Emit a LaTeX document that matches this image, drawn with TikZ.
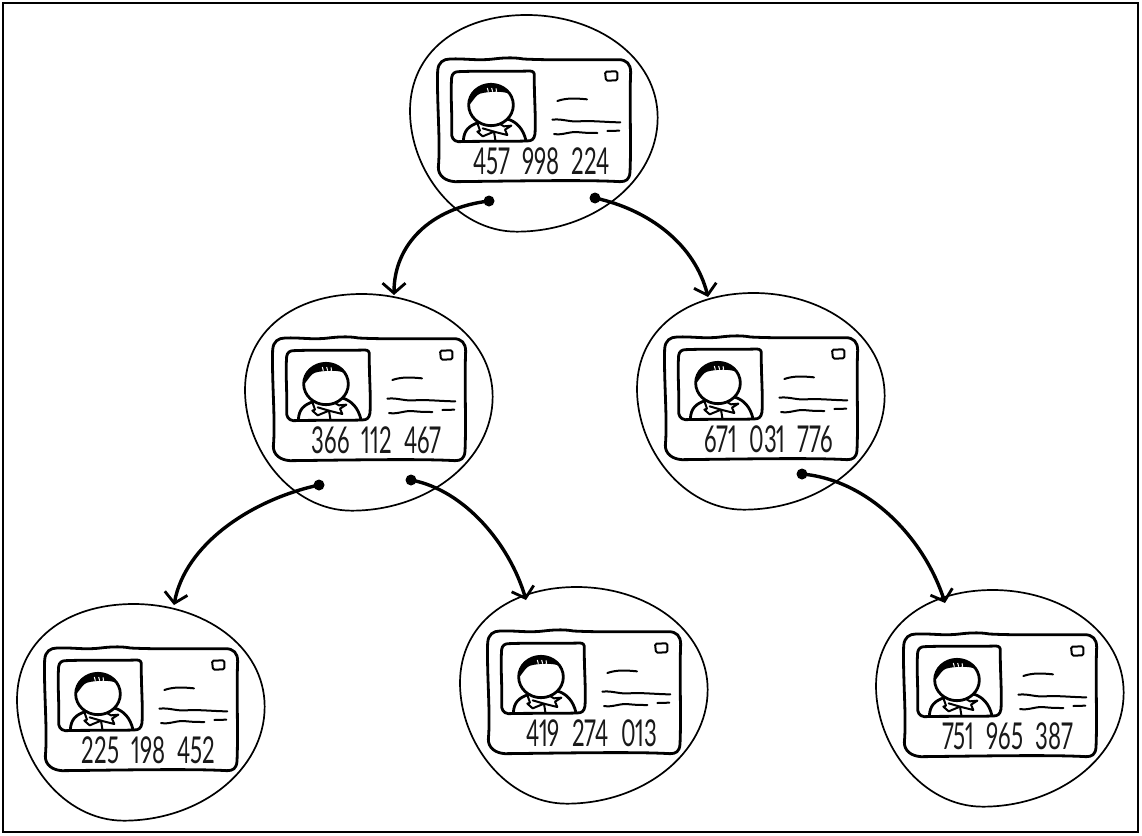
\documentclass[tikz,border=0pt]{standalone}
\usepackage{fontspec}
\setmainfont{Lato}[Numbers=Proportional]
\usetikzlibrary{arrows.meta}
\tikzset{
  x=1pt,y=-1pt,
  ink/.style={line cap=round,line join=round,draw=black},
  bubble/.style={ink,line width=1.7pt},
  cardline/.style={ink,line width=2.8pt},
  thinline/.style={ink,line width=2pt},
  numlabel/.style={font=\fontsize{37}{37}\selectfont,inner sep=0pt,text=black!90},
  link/.style={ink,line width=3.4pt,-{Straight Barb[length=10pt,width=23pt,line width=2.8pt]}},
  dotmark/.style={circle,fill=black,inner sep=0pt,minimum size=11pt},
  pics/idcard/.style={code={
    \begin{scope}[shift={(-38,-29)},scale=0.33333]
      % bubble
      \draw[bubble] (380,-42) .. controls (175,-42) and (30,70) .. (30,246)
        .. controls (30,426) and (170,608) .. (350,608)
        .. controls (580,608) and (773,456) .. (773,266)
        .. controls (773,85) and (590,-42) .. (380,-42) -- cycle;
      % card
      \draw[cardline] (150,90) .. controls (200,88) and (230,96) .. (280,90)
        .. controls (320,85) and (350,86) .. (370,90)
        .. controls (450,94) and (550,92) .. (655,92)
        .. controls (680,92) and (692,105) .. (692,130)
        .. controls (688,220) and (694,340) .. (690,430)
        .. controls (688,452) and (678,458) .. (660,458)
        .. controls (560,452) and (350,456) .. (165,458)
        .. controls (135,456) and (115,440) .. (115,415)
        .. controls (122,340) and (110,220) .. (113,125)
        .. controls (115,100) and (130,90) .. (150,90) -- cycle;
      % photo
      \draw[cardline] (175,128) .. controls (250,125) and (320,128) .. (390,126)
        .. controls (400,126) and (404,132) .. (403,142)
        .. controls (402,200) and (408,260) .. (405,315)
        .. controls (402,332) and (395,336) .. (380,336)
        .. controls (310,338) and (240,336) .. (175,338)
        .. controls (160,336) and (154,326) .. (155,310)
        .. controls (157,250) and (151,200) .. (155,145)
        .. controls (157,133) and (165,128) .. (175,128) -- cycle;
      % head
      \draw[cardline] (273,228) ellipse [x radius=67,y radius=62];
      % hair
      \fill[black] (208,228) .. controls (200,190) and (235,165) .. (273,167)
        .. controls (300,167) and (320,178) .. (330,195)
        .. controls (310,186) and (270,186) .. (240,194)
        .. controls (228,198) and (222,212) .. (208,228) -- cycle;
      \draw[white,line width=1pt] (262,177) -- (265,188) (275,177) -- (278,188) (288,178) -- (290,188);
      % shoulders
      \draw[cardline] (190,335) .. controls (192,305) and (205,290) .. (238,280);
      \draw[cardline] (322,270) .. controls (350,278) and (370,300) .. (378,335);
      % collar
      \draw[thinline] (233,285) -- (240,305) -- (232,308) -- (248,322) -- (282,308) -- (286,333);
      \draw[thinline] (248,298) -- (282,308) -- (322,318) -- (315,302) -- (334,290) -- (312,292) -- (300,285);
      % text lines
      \draw[thinline] (472,216) .. controls (500,206) and (530,208) .. (561,211);
      \draw[thinline] (457,272) .. controls (490,268) and (510,282) .. (550,276)
        .. controls (590,276) and (630,280) .. (661,280);
      \draw[thinline] (462,315) .. controls (490,320) and (510,305) .. (540,310)
        .. controls (560,312) and (575,312) .. (592,312);
      \draw[thinline] (622,306) -- (658,305);
      % stamp
      \draw[cardline,line width=2pt,rounded corners=1.5pt] (615,128) -- (652,127) -- (652,154) -- (618,155) -- cycle;
      \node[numlabel] (num) at (425,396) {\scalebox{.6}[1]{#1}};
    \end{scope}
  }}
}
\newcommand{\cardnum}[3]{#1\hspace{.55em}#2\hspace{.55em}#3}
\begin{document}
\begin{tikzpicture}
  \useasboundingbox (0,0) rectangle (1142,835);
  \fill[white] (0,0) rectangle (1142,835);
  \draw[black,line width=2.8pt] (3,3) rectangle (1138,832);

  \pic (top)  at (438,58)  {idcard={\cardnum{457}{998}{224}}};
  \pic (midl) at (273,337) {idcard={\cardnum{366}{112}{467}}};
  \pic (midr) at (665,336) {idcard={\cardnum{671}{031}{776}}};
  \pic (botl) at (45,647)  {idcard={\cardnum{225}{198}{452}}};
  \pic (botm) at (488,630) {idcard={\cardnum{419}{274}{013}}};
  \pic (botr) at (904,633) {idcard={\cardnum{751}{965}{387}}};

  \node[dotmark] (d1) at (489,201) {};
  \node[dotmark] (d2) at (595,198) {};
  \node[dotmark] (d3) at (319,485) {};
  \node[dotmark] (d4) at (411,480) {};
  \node[dotmark] (d5) at (802,474) {};
  \coordinate (t1) at (394,295);
  \coordinate (t2) at (708,297);
  \coordinate (t3) at (174,605);
  \coordinate (t4) at (526,600);
  \coordinate (t5) at (945,603);

  \draw[link] (d1.center) .. controls (430,208) and (394,245) .. (t1);
  \draw[link] (d2.center) .. controls (650,210) and (695,245) .. (t2);
  \draw[link] (d3.center) .. controls (250,500) and (185,545) .. (t3);
  \draw[link] (d4.center) .. controls (465,490) and (510,545) .. (t4);
  \draw[link] (d5.center) .. controls (870,480) and (925,540) .. (t5);
\end{tikzpicture}
\end{document}
